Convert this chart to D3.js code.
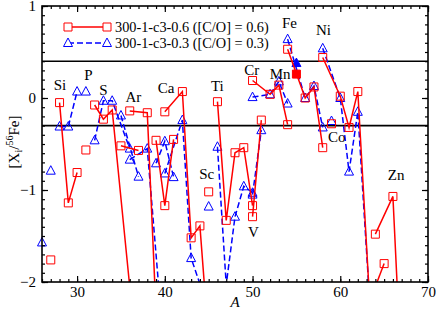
<!DOCTYPE html>
<html>
<head>
<meta charset="utf-8">
<script src="https://cdn.jsdelivr.net/npm/d3@7"></script>
<style>
  body { margin: 0; background: #fff; }
  text { font-family: "Liberation Serif", "DejaVu Serif", serif; }
</style>
</head>
<body>
<svg id="chart" width="436" height="311"></svg>
<script>
// elements, their isotopes (mass number A) and [X_i/56Fe] for the two models
var elements = ["Mg","Al","Si","P","S","Cl","Ar","K","Ca","Sc","Ti","V","Cr","Mn","Fe","Co","Ni","Cu","Zn"];
var isotopes = [[26],[27],[28,29,30],[31],[32,33,34,36],[35,37],[36,38,40],[39,40,41],[40,42,43,44,46],[45],
                [46,47,48,49,50],[50,51],[50,52,53,54],[55],[54,56,57,58],[59],[58,60,61,62,64],[63,65],[64,66,67]];
// 300-1-c3-0.6 ([C/O] = 0.6)
var co06 = [[null],[-1.76],[-0.05,-1.14,-0.81],[-0.565],[-0.076,-0.23,-0.13,-2.05],[-0.52,-0.57],[-0.14,-0.16,-4.5],
            [-0.46,-1.17,-0.45],[-0.15,0.07,-1.52,-1.39,-3.9],[-1.02],[-0.04,-1.33,-0.595,-0.54,-1.17],[-1.29,-0.24],
            [0.19,0.04,0.14,-0.29],[0.26],[0.53,0,0.12,-0.54],[-0.28],[0.44,0.02,-0.32,0.07,-3.3],[-2.3,-1.8],[-1.48,-1.07,-3.06]];
// 300-1-c3-0.3 ([C/O] = 0.3)
var co03 = [[-1.57],[-0.79],[-0.31,-0.31,0.07],[0.07],[-0.46,-0.03,-0.03,-0.55],[-0.19,-0.855],[-0.67,-0.55,-2.85],
            [-0.71,-0.47,-0.86],[-0.82,-0.24,-1.74,-2.02,null],[-1.18],[-0.53,-2.03,-1.29,-0.96,-1.03],[-1.05,-0.35],
            [0.01,0.04,0.18,-0.06],[0.38],[0.64,0,0.13,-0.32],[-0.25],[0.54,0.0,-0.8,-0.15,-3.2],[null,null],[null,null,null]];
var filledElements = ["Mn"];
var refLines = [0.4, -0.3];

// element annotations, in data coordinates
var labelNames = ["Si","P","S","Ar","Ca","Sc","Ti","V","Cr","Mn","Fe","Co","Ni","Zn"];
var labelA     = [28.05,31.28,32.99,36.41,40.14,44.78,45.99,50.09,49.91,53.14,54.2,59.6,58.08,66.37];
var labelV     = [0.14,0.25,0.087,0.014,0.105,-0.826,0.13,-1.453,0.304,0.26,0.812,-0.42,0.739,-0.837];

var seriesNames = ["300-1-c3-0.6 ([C/O] = 0.6)", "300-1-c3-0.3 ([C/O] = 0.3)"];

var svg = d3.select("#chart");
var pLeft = 42, pRight = 428, pTop = 6, pBottom = 282;

var x = d3.scaleLinear().domain([26, 70]).range([pLeft, pRight]);
var y = d3.scaleLinear().domain([-2, 1]).range([pBottom, pTop]);

svg.append("clipPath").attr("id", "plotclip")
  .append("rect").attr("x", pLeft).attr("y", pTop).attr("width", pRight - pLeft).attr("height", pBottom - pTop);

// reference lines
svg.selectAll(".ref").data(refLines).enter().append("line")
  .attr("x1", pLeft).attr("x2", pRight)
  .attr("y1", function(d) { return y(d); }).attr("y2", function(d) { return y(d); })
  .attr("stroke", "#000").attr("stroke-width", 1.6);

var series = [
  {vals: co06, color: "#ff0000", dash: null, marker: "square"},
  {vals: co03, color: "#0000ff", dash: "6,3", marker: "triangle"}
];

var line = d3.line().x(function(d) { return x(d.A); }).y(function(d) { return y(d.v); });

function markerPath(type, cx, cy) {
  if (type == "square") return "M" + (cx-4) + "," + (cy-4) + "h8v8h-8z";
  return "M" + cx + "," + (cy-5) + "L" + (cx+4.5) + "," + (cy+3.5) + "L" + (cx-4.5) + "," + (cy+3.5) + "Z";
}

// blue set first so the red set sits on top of it
[1, 0].forEach(function(si) {
  var s = series[si];
  var g = svg.append("g");
  elements.forEach(function(el, ei) {
    var pts = isotopes[ei].map(function(a, k) { return {A: a, v: s.vals[ei][k]}; })
      .filter(function(d) { return d.v !== null; });
    if (pts.length > 1) {
      g.append("path").datum(pts)
        .attr("clip-path", "url(#plotclip)")
        .attr("d", line)
        .attr("fill", "none")
        .attr("stroke", s.color)
        .attr("stroke-width", 1.5)
        .attr("stroke-dasharray", s.dash);
    }
    var filled = filledElements.indexOf(el) >= 0;
    g.selectAll(null).data(pts.filter(function(d) { return d.v >= -2 && d.v <= 1; }))
      .enter().append("path")
      .attr("d", function(d) { return markerPath(s.marker, x(d.A), y(d.v)); })
      .attr("fill", filled ? s.color : "none")
      .attr("stroke", s.color)
      .attr("stroke-width", 1);
  });
});

// element labels
svg.selectAll(".elab").data(labelNames).enter().append("text")
  .attr("x", function(d, i) { return x(labelA[i]); })
  .attr("y", function(d, i) { return y(labelV[i]); })
  .attr("text-anchor", "middle")
  .attr("dominant-baseline", "central")
  .attr("font-size", 15)
  .text(function(d) { return d; });

// axes, ticks pointing inward on all four sides
function styleAxis(g) {
  g.attr("font-family", null);
  g.select(".domain").remove();
  g.selectAll(".tick line").attr("stroke", "#000").attr("stroke-width", 1.2);
  g.selectAll("text").attr("font-size", 15).attr("fill", "#000");
}
var xMajor = d3.range(30, 71, 10), xMinor = d3.range(26, 71, 1);
var yMajor = [1, 0, -1, -2], yMinor = d3.range(-20, 11).map(function(d) { return d / 10; });

svg.append("g").attr("transform", "translate(0," + pBottom + ")")
  .call(d3.axisBottom(x).tickValues(xMinor).tickSize(-3).tickFormat("")).call(styleAxis);
svg.append("g").attr("transform", "translate(0," + pBottom + ")")
  .call(d3.axisBottom(x).tickValues(xMajor).tickSize(-6).tickPadding(4).tickFormat(d3.format("d"))).call(styleAxis);
svg.append("g").attr("transform", "translate(0," + pTop + ")")
  .call(d3.axisTop(x).tickValues(xMinor).tickSize(-3).tickFormat("")).call(styleAxis);
svg.append("g").attr("transform", "translate(0," + pTop + ")")
  .call(d3.axisTop(x).tickValues(xMajor).tickSize(-6).tickFormat("")).call(styleAxis);
svg.append("g").attr("transform", "translate(" + pLeft + ",0)")
  .call(d3.axisLeft(y).tickValues(yMinor).tickSize(-3).tickFormat("")).call(styleAxis);
svg.append("g").attr("transform", "translate(" + pLeft + ",0)")
  .call(d3.axisLeft(y).tickValues(yMajor).tickSize(-6).tickPadding(6).tickFormat(d3.format("d"))).call(styleAxis);
svg.append("g").attr("transform", "translate(" + pRight + ",0)")
  .call(d3.axisRight(y).tickValues(yMinor).tickSize(-3).tickFormat("")).call(styleAxis);
svg.append("g").attr("transform", "translate(" + pRight + ",0)")
  .call(d3.axisRight(y).tickValues(yMajor).tickSize(-6).tickFormat("")).call(styleAxis);

svg.append("rect").attr("x", pLeft).attr("y", pTop).attr("width", pRight - pLeft).attr("height", pBottom - pTop)
  .attr("fill", "none").attr("stroke", "#000").attr("stroke-width", 1.6);

// axis titles
svg.append("text").attr("x", (pLeft + pRight) / 2).attr("y", 307)
  .attr("text-anchor", "middle").attr("font-size", 15).attr("font-style", "italic").text("A");

var yt = svg.append("text").attr("transform", "translate(19,142) rotate(-90)")
  .attr("text-anchor", "middle").attr("font-size", 15);
yt.append("tspan").text("[X");
yt.append("tspan").attr("font-size", 10).attr("dy", 3).text("i");
yt.append("tspan").attr("dy", -3).text("/");
yt.append("tspan").attr("font-size", 10).attr("dy", -6).text("56");
yt.append("tspan").attr("dy", 6).text("Fe]");

// legend
var legend = svg.selectAll(".legend").data(series).enter().append("g")
  .attr("transform", function(d, i) { return "translate(0," + (27 + i * 16) + ")"; });
legend.append("line").attr("x1", 68).attr("x2", 107).attr("y1", 0).attr("y2", 0)
  .attr("stroke", function(d) { return d.color; }).attr("stroke-width", 1.5)
  .attr("stroke-dasharray", function(d) { return d.dash; });
legend.each(function(d) {
  var g = d3.select(this);
  [68, 107].forEach(function(px) {
    g.append("path").attr("d", markerPath(d.marker, px, 0))
      .attr("fill", "white").attr("stroke", d.color).attr("stroke-width", 1);
  });
});
legend.append("text").attr("x", 115).attr("y", 0).attr("dominant-baseline", "central")
  .attr("font-size", 14.3).text(function(d, i) { return seriesNames[i]; });
</script>
</body>
</html>
